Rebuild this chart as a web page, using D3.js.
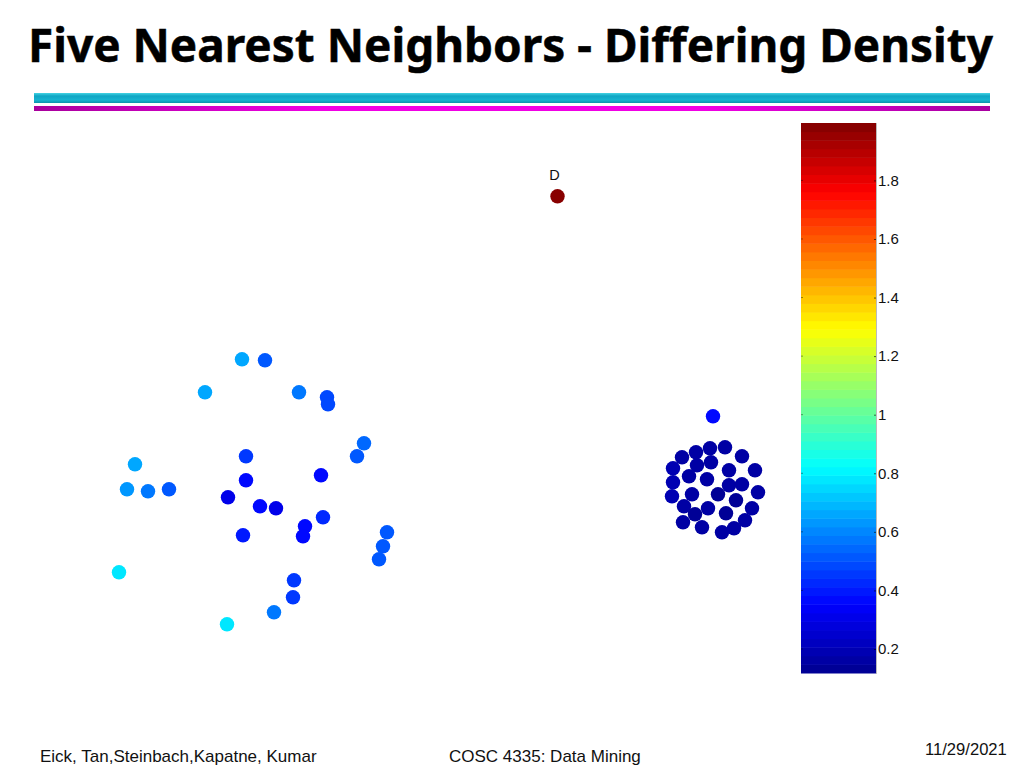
<!DOCTYPE html>
<html>
<head>
<meta charset="utf-8">
<script src="https://cdn.jsdelivr.net/npm/d3@7"></script>
<style>
  html, body { margin: 0; padding: 0; background: #fff; }
  text { font-family: "Liberation Sans", Arial, sans-serif; }
</style>
</head>
<body>
<svg id="chart" width="1024" height="768"></svg>
<script>
// data space: x 0-7, y 0-6
var sparseX = [1.42,1.65,1.05,1.99,2.27,2.28,2.64,2.57,1.46,0.35,2.21,1.46,0.27,0.48,0.69,1.28,1.60,1.76,2.23,2.05,2.03,1.43,2.87,2.83,2.79,0.19,1.94,1.93,1.74,1.27];
var sparseY = [3.41,3.40,3.08,3.08,3.03,2.96,2.57,2.44,2.44,2.36,2.25,2.20,2.11,2.09,2.11,2.03,1.94,1.92,1.83,1.74,1.64,1.65,1.68,1.54,1.41,1.28,1.20,1.03,0.88,0.76];
var sparseDensity = [0.65,0.52,0.66,0.57,0.48,0.48,0.55,0.50,0.47,0.67,0.36,0.36,0.64,0.57,0.50,0.30,0.36,0.31,0.43,0.36,0.37,0.40,0.52,0.50,0.50,0.78,0.45,0.47,0.57,0.78];

var denseX = [6.13,6.25,6.10,5.96,5.82,6.42,6.11,5.97,5.73,6.29,6.55,5.89,6.07,5.73,6.42,6.29,6.58,5.72,5.92,6.18,6.36,5.84,6.08,6.52,5.95,6.26,6.45,5.83,6.02,6.34,6.22];
var denseY = [2.84,2.53,2.52,2.48,2.43,2.44,2.38,2.35,2.32,2.30,2.30,2.24,2.21,2.18,2.16,2.15,2.08,2.04,2.06,2.06,2.00,1.94,1.92,1.92,1.86,1.87,1.80,1.78,1.73,1.72,1.68];
var denseDensity = [0.38,0.16,0.17,0.17,0.17,0.16,0.16,0.15,0.18,0.16,0.17,0.17,0.15,0.18,0.15,0.15,0.17,0.18,0.15,0.14,0.13,0.16,0.15,0.17,0.14,0.14,0.17,0.17,0.17,0.17,0.16];

var outlierX = [4.575];
var outlierY = [5.04];
var outlierDensity = [1.98];
var outlierLabels = ["D"];

var colorTicks = [0.2,0.4,0.6,0.8,1,1.2,1.4,1.6,1.8];

var svg = d3.select("#chart");

var xScale = d3.scaleLinear().domain([0, 7]).range([100, 800]);
var yScale = d3.scaleLinear().domain([0, 6]).range([700.3, 100.3]);

// matlab jet, 64 flat bands
var densityDomain = [0.118, 1.996];
var jet = d3.scaleLinear()
  .domain([0, 1/8, 3/8, 5/8, 7/8, 1])
  .range(["#00008f", "#0000ff", "#00ffff", "#ffff00", "#ff0000", "#800000"])
  .clamp(true);
var toFraction = d3.scaleLinear().domain(densityDomain).range([0, 1]);
function bandColor(v) {
  var band = Math.min(63, Math.floor(toFraction(v) * 64));
  return jet((band + 0.5) / 64);
}

// title
svg.append("text")
  .attr("class", "title")
  .attr("x", 28)
  .attr("y", 62)
  .attr("font-size", 46)
  .attr("font-weight", "bold")
  .style("font-family", "'Noto Sans'")
  .attr("textLength", 965)
  .attr("lengthAdjust", "spacingAndGlyphs")
  .attr("fill", "#000")
  .attr("stroke", "#000")
  .attr("stroke-width", 0.5)
  .text("Five Nearest Neighbors - Differing Density");

// header rules
var defs = svg.append("defs");
var cyanGrad = defs.append("linearGradient").attr("id", "cyanRule").attr("x1", 0).attr("x2", 0).attr("y1", 0).attr("y2", 1);
cyanGrad.append("stop").attr("offset", "0%").attr("stop-color", "#45d4e4");
cyanGrad.append("stop").attr("offset", "30%").attr("stop-color", "#0fa6c4");
cyanGrad.append("stop").attr("offset", "70%").attr("stop-color", "#16b4d0");
cyanGrad.append("stop").attr("offset", "100%").attr("stop-color", "#0b92aa");
var magentaGrad = defs.append("linearGradient").attr("id", "magentaRule");
magentaGrad.append("stop").attr("offset", "0%").attr("stop-color", "#a8009c");
magentaGrad.append("stop").attr("offset", "30%").attr("stop-color", "#f000e4");
magentaGrad.append("stop").attr("offset", "70%").attr("stop-color", "#f000e4");
magentaGrad.append("stop").attr("offset", "100%").attr("stop-color", "#a800a0");

svg.append("rect").attr("x", 34).attr("y", 93).attr("width", 956).attr("height", 10).attr("fill", "url(#cyanRule)");
svg.append("rect").attr("x", 34).attr("y", 106).attr("width", 956).attr("height", 5).attr("fill", "url(#magentaRule)");

// colour bar
var barLeft = 801, barRight = 876, barTop = 123, barBottom = 673;
var barScale = d3.scaleLinear().domain(densityDomain).range([barBottom, barTop]);
var bandEdges = d3.range(65).map(function(i) { return densityDomain[0] + (densityDomain[1] - densityDomain[0]) * i / 64; });

svg.append("g").selectAll("rect")
  .data(d3.range(64))
  .enter().append("rect")
  .attr("x", barLeft)
  .attr("width", barRight - barLeft)
  .attr("y", function(i) { return barScale(bandEdges[i + 1]); })
  .attr("height", function(i) { return barScale(bandEdges[i]) - barScale(bandEdges[i + 1]) + 0.5; })
  .attr("fill", function(i) { return jet((i + 0.5) / 64); });

var colorAxis = svg.append("g")
  .attr("transform", "translate(" + barRight + ",0)")
  .call(d3.axisRight(barScale)
    .tickValues(colorTicks)
    .tickFormat(function(d) { return d; })
    .tickSizeInner(-2)
    .tickSizeOuter(1)
    .tickPadding(2));
colorAxis.select(".domain").attr("stroke", "#000").attr("stroke-opacity", 0.45).attr("stroke-width", 0.6);
colorAxis.selectAll("line").attr("stroke", "#000").attr("stroke-opacity", 0.6);
colorAxis.selectAll("text").attr("font-size", 15).attr("font-family", "Liberation Sans").attr("fill", "#111");

// left hand ticks of the bar
svg.append("g").selectAll("line")
  .data(colorTicks)
  .enter().append("line")
  .attr("x1", barLeft).attr("x2", barLeft + 2)
  .attr("y1", function(d) { return barScale(d); })
  .attr("y2", function(d) { return barScale(d); })
  .attr("stroke", "#000").attr("stroke-opacity", 0.4);

// points
function drawPoints(xs, ys, vals) {
  svg.append("g").selectAll("circle")
    .data(xs)
    .enter().append("circle")
    .attr("cx", function(d) { return xScale(d); })
    .attr("cy", function(d, i) { return yScale(ys[i]); })
    .attr("r", 7.2)
    .attr("fill", function(d, i) { return bandColor(vals[i]); });
}
drawPoints(sparseX, sparseY, sparseDensity);
drawPoints(denseX, denseY, denseDensity);
drawPoints(outlierX, outlierY, outlierDensity);

svg.append("text")
  .attr("x", xScale(outlierX[0]) - 3)
  .attr("y", yScale(outlierY[0]) - 16)
  .attr("text-anchor", "middle")
  .attr("font-size", 14.5)
  .attr("fill", "#111")
  .text(outlierLabels[0]);

// footer
svg.append("text").attr("x", 40).attr("y", 762).attr("font-size", 17).attr("fill", "#111").text("Eick, Tan,Steinbach,Kapatne, Kumar");
svg.append("text").attr("x", 449).attr("y", 762).attr("font-size", 17).attr("fill", "#111").text("COSC 4335: Data Mining");
svg.append("text").attr("x", 925).attr("y", 755).attr("font-size", 16.6).attr("fill", "#111").text("11/29/2021");
</script>
</body>
</html>
